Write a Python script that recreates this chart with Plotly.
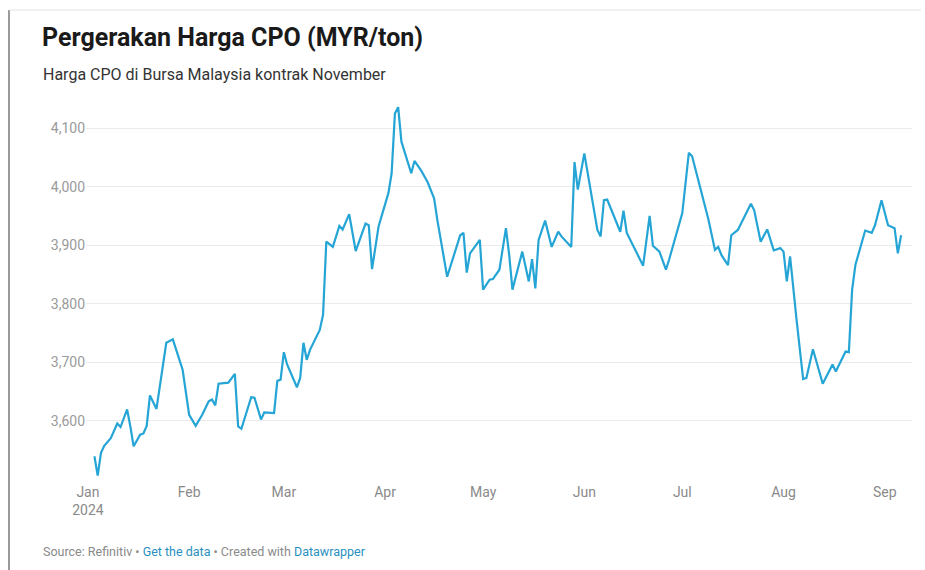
import plotly.graph_objects as go

dates = [
    "2024-01-03", "2024-01-04", "2024-01-05", "2024-01-06", "2024-01-08", "2024-01-10",
    "2024-01-11", "2024-01-13", "2024-01-14", "2024-01-15", "2024-01-17", "2024-01-18",
    "2024-01-19", "2024-01-20", "2024-01-22", "2024-01-25", "2024-01-27", "2024-01-30",
    "2024-02-01", "2024-02-03", "2024-02-05", "2024-02-07", "2024-02-08", "2024-02-09",
    "2024-02-10", "2024-02-13", "2024-02-15", "2024-02-16", "2024-02-17", "2024-02-20",
    "2024-02-21", "2024-02-23", "2024-02-24", "2024-02-27", "2024-02-28", "2024-02-29",
    "2024-03-01", "2024-03-02", "2024-03-05", "2024-03-06", "2024-03-07", "2024-03-08",
    "2024-03-09", "2024-03-12", "2024-03-13", "2024-03-14", "2024-03-16", "2024-03-18",
    "2024-03-19", "2024-03-21", "2024-03-23", "2024-03-26", "2024-03-27", "2024-03-28",
    "2024-03-30", "2024-04-02", "2024-04-03", "2024-04-04", "2024-04-05", "2024-04-06",
    "2024-04-09", "2024-04-10", "2024-04-12", "2024-04-14", "2024-04-16", "2024-04-17",
    "2024-04-20", "2024-04-22", "2024-04-24", "2024-04-25", "2024-04-26", "2024-04-27",
    "2024-04-30", "2024-05-01", "2024-05-03", "2024-05-04", "2024-05-06", "2024-05-08",
    "2024-05-09", "2024-05-10", "2024-05-13", "2024-05-15", "2024-05-16", "2024-05-17",
    "2024-05-18", "2024-05-20", "2024-05-22", "2024-05-24", "2024-05-25", "2024-05-28",
    "2024-05-29", "2024-05-30", "2024-06-01", "2024-06-05", "2024-06-06", "2024-06-07",
    "2024-06-08", "2024-06-12", "2024-06-13", "2024-06-14", "2024-06-19", "2024-06-21",
    "2024-06-22", "2024-06-24", "2024-06-26", "2024-06-27", "2024-07-01", "2024-07-03",
    "2024-07-04", "2024-07-09", "2024-07-11", "2024-07-12", "2024-07-13", "2024-07-15",
    "2024-07-16", "2024-07-18", "2024-07-20", "2024-07-22", "2024-07-23", "2024-07-25",
    "2024-07-27", "2024-07-29", "2024-07-31", "2024-08-01", "2024-08-02", "2024-08-03",
    "2024-08-05", "2024-08-07", "2024-08-08", "2024-08-10", "2024-08-13", "2024-08-16",
    "2024-08-17", "2024-08-20", "2024-08-21", "2024-08-22", "2024-08-23", "2024-08-26",
    "2024-08-28", "2024-08-29", "2024-08-31", "2024-09-02", "2024-09-04", "2024-09-05",
    "2024-09-06",
]

prices = [
    3539, 3506, 3545, 3557, 3570, 3595,
    3589, 3619, 3590, 3556, 3576, 3578,
    3591, 3643, 3620, 3733, 3739, 3687,
    3610, 3591, 3610, 3633, 3636, 3626,
    3663, 3665, 3680, 3590, 3586, 3640,
    3639, 3602, 3614, 3613, 3668, 3670,
    3717, 3696, 3657, 3673, 3733, 3704,
    3721, 3755, 3781, 3906, 3897, 3933,
    3927, 3953, 3890, 3937, 3934, 3859,
    3932, 3989, 4023, 4125, 4136, 4077,
    4023, 4044, 4028, 4008, 3980, 3943,
    3846, 3883, 3917, 3921, 3853, 3886,
    3909, 3824, 3841, 3842, 3858, 3929,
    3883, 3824, 3889, 3838, 3876, 3826,
    3909, 3942, 3897, 3923, 3915, 3897,
    4042, 3995, 4057, 3926, 3915, 3977,
    3978, 3923, 3959, 3921, 3865, 3950,
    3899, 3889, 3858, 3876, 3955, 4058,
    4052, 3944, 3892, 3897, 3883, 3866,
    3917, 3926, 3949, 3971, 3960, 3906,
    3927, 3891, 3895, 3889, 3838, 3881,
    3772, 3671, 3673, 3722, 3663, 3696,
    3684, 3718, 3717, 3824, 3866, 3925,
    3921, 3934, 3977, 3934, 3929, 3886,
    3917,
]

month_ticks = ["2024-01-01", "2024-02-01", "2024-03-01", "2024-04-01", "2024-05-01",
               "2024-06-01", "2024-07-01", "2024-08-01", "2024-09-01"]
month_labels = ["Jan<br>2024", "Feb", "Mar", "Apr", "May", "Jun", "Jul", "Aug", "Sep"]
y_ticks = [3600, 3700, 3800, 3900, 4000, 4100]

title = "Pergerakan Harga CPO (MYR/ton)"
subtitle = "Harga CPO di Bursa Malaysia kontrak November"

W, H = 925, 570
L, R, T, B = 86, 13, 99, 88
pw, ph = W - L - R, H - T - B


def px(x):
    return (x - L) / pw


def py(y):
    return (H - B - y) / ph


fig = go.Figure()
fig.add_trace(go.Scatter(
    x=dates, y=prices, mode="lines",
    line=dict(color="#25a5d5", width=2.2),
    hoverinfo="x+y", showlegend=False,
))

fig.update_layout(
    width=W, height=H,
    margin=dict(l=L, r=R, t=T, b=B),
    paper_bgcolor="white", plot_bgcolor="white",
    font=dict(family="Roboto, sans-serif", color="#888888", size=13),
    xaxis=dict(
        range=["2023-12-31 10:00", "2024-09-09 08:00"],
        tickvals=month_ticks, ticktext=month_labels,
        showgrid=False, zeroline=False, showline=False, ticks="",
        tickfont=dict(size=14, color="#8a8a8a"),
    ),
    yaxis=dict(
        range=[3495, 4150],
        tickvals=y_ticks, tickformat=",",
        showgrid=True, gridcolor="#ebebeb", gridwidth=1,
        zeroline=False, showline=False, ticks="",
        tickfont=dict(size=14, color="#9a9a9a"),
    ),
    annotations=[
        dict(text="<b>" + title + "</b>", xref="paper", yref="paper",
             x=px(40), y=py(38), xanchor="left", yanchor="middle", showarrow=False,
             font=dict(family="Roboto, sans-serif", size=25, color="#1a1a1a")),
        dict(text=subtitle, xref="paper", yref="paper",
             x=px(41), y=py(75), xanchor="left", yanchor="middle", showarrow=False,
             font=dict(family="Roboto, sans-serif", size=16, color="#333333")),
        dict(text='Source: Refinitiv • <span style="color:#2a8fc0">Get the data</span>'
                  ' • Created with <span style="color:#2a8fc0">Datawrapper</span>',
             xref="paper", yref="paper",
             x=px(41), y=py(551), xanchor="left", yanchor="middle", showarrow=False,
             font=dict(family="Roboto, sans-serif", size=12.5, color="#8a8a8a")),
    ],
    shapes=[
        dict(type="line", xref="paper", yref="paper",
             x0=px(9), x1=px(9), y0=py(10), y1=py(572),
             line=dict(color="#9a9a9a", width=2)),
        dict(type="line", xref="paper", yref="paper",
             x0=px(9), x1=px(921), y0=py(10), y1=py(10),
             line=dict(color="#e3e3e3", width=1)),
    ],
)

fig.write_html(
    "out.html",
    config={"displayModeBar": False},
    post_script="document.body.style.margin='0';document.body.style.overflow='hidden';",
)
